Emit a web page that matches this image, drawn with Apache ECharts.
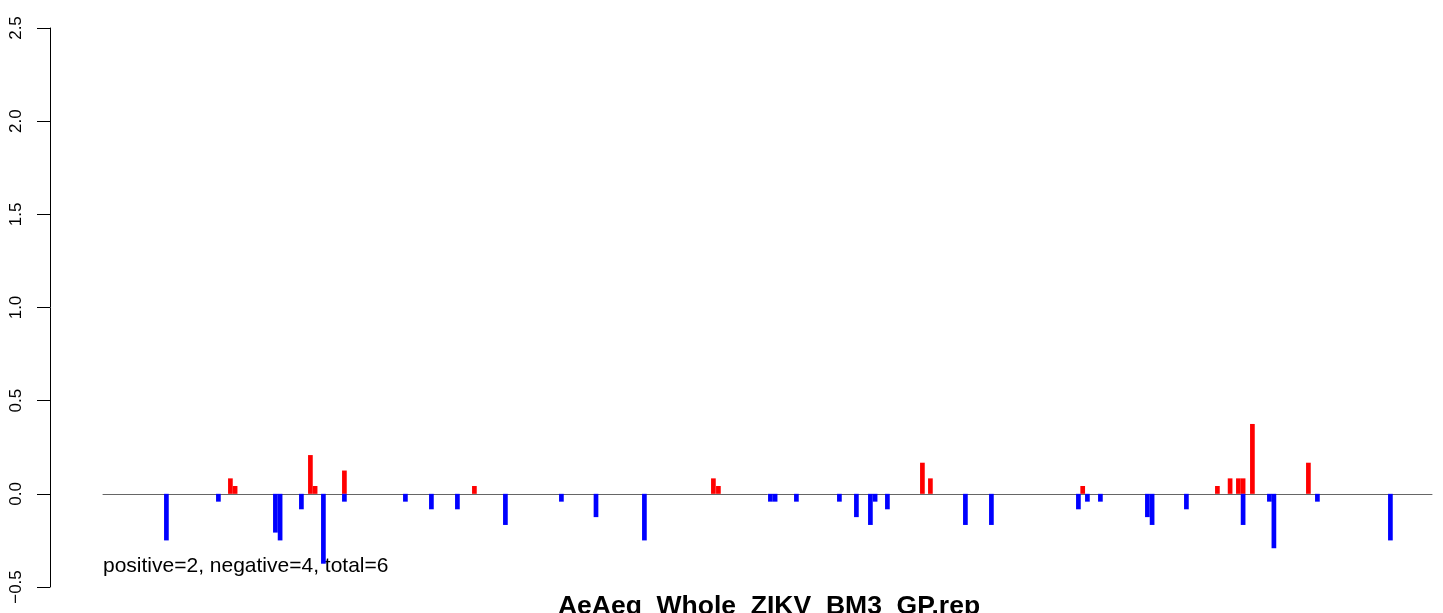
<!DOCTYPE html>
<html>
<head>
<meta charset="utf-8">
<script src="https://cdn.jsdelivr.net/npm/echarts@6/dist/echarts.min.js"></script>
<style>
html,body{margin:0;padding:0;background:#fff;}
#chart{width:1443px;height:613px;}
</style>
</head>
<body>
<div id="chart"></div>
<script>
// Relative positions along the track (bar centres) and values
var posPositions = [127.4, 132.1, 207.4, 212.1, 241.4, 371.4, 610.4, 615.4, 819.4, 827.4, 979.7, 1114.4, 1127.1, 1135.4, 1140.1, 1149.4, 1205.4];
var posValues    = [0.083, 0.042, 0.208, 0.042, 0.125, 0.042, 0.083, 0.042, 0.167, 0.083, 0.042, 0.042, 0.083, 0.083, 0.083, 0.375, 0.167];

var negPositions = [63.4, 115.4, 172.4, 177.1, 198.4, 220.4, 241.4, 302.4, 328.4, 354.4, 402.4, 458.4, 493.0, 541.4, 667.4, 672.1, 693.4, 736.4, 753.4, 767.4, 772.1, 784.4, 862.4, 888.4, 975.4, 984.4, 997.4, 1044.4, 1049.1, 1083.4, 1140.1, 1166.4, 1170.9, 1214.4, 1287.4];
var negValues    = [-0.25, -0.042, -0.208, -0.25, -0.083, -0.375, -0.042, -0.042, -0.083, -0.083, -0.167, -0.042, -0.125, -0.25, -0.042, -0.042, -0.042, -0.042, -0.125, -0.167, -0.042, -0.083, -0.167, -0.167, -0.083, -0.042, -0.042, -0.125, -0.167, -0.083, -0.167, -0.042, -0.292, -0.042, -0.25];

var yTicks = [-0.5, 0.0, 0.5, 1.0, 1.5, 2.0, 2.5];
var countPositive = 2, countNegative = 4, countTotal = 6;
var chartTitle = 'AeAeg_Whole_ZIKV_BM3_GP.rep';

function pairs(xs, ys){ return xs.map(function(x,i){ return [x, ys[i]]; }); }

var chart = echarts.init(document.getElementById('chart'));
var FONT = '"Liberation Sans", Arial, Helvetica, sans-serif';
chart.setOption({
  animation: false,
  backgroundColor: '#ffffff',
  grid: { left: 103, right: 11, top: 28, bottom: 26 },
  xAxis: {
    type: 'value', min: 0, max: 1329,
    axisLine: { show: true, onZero: true, lineStyle: { color: '#666666', width: 1 } },
    axisTick: { show: false }, axisLabel: { show: false }, splitLine: { show: false }
  },
  yAxis: {
    type: 'value', min: yTicks[0], max: yTicks[yTicks.length-1], interval: 0.5,
    offset: 53,
    axisLine: { show: true, onZero: false, lineStyle: { color: '#000', width: 1 } },
    axisTick: { show: true, length: 13, lineStyle: { color: '#000', width: 1 } },
    splitLine: { show: false },
    axisLabel: {
      rotate: 90, margin: 25, fontSize: 17, color: '#000', fontFamily: FONT,
      formatter: function(v){ return (v < 0 ? '\u2212' : '') + Math.abs(v).toFixed(1); }
    }
  },
  series: [
    { type: 'bar', data: pairs(posPositions, posValues), barWidth: 4.7, barGap: '-100%',
      itemStyle: { color: '#ff0000' } },
    { type: 'bar', data: pairs(negPositions, negValues), barWidth: 4.7, barGap: '-100%',
      itemStyle: { color: '#0000ff' } }
  ],
  graphic: [
    { type: 'text', left: 103, top: 556,
      style: { text: 'positive=' + countPositive + ', negative=' + countNegative + ', total=' + countTotal,
               font: '21px ' + FONT, fill: '#000' } },
    { type: 'text', x: 769, y: 593,
      style: { text: chartTitle, font: 'bold 26.5px ' + FONT, fill: '#000', align: 'center', verticalAlign: 'top' } }
  ]
});
</script>
</body>
</html>
